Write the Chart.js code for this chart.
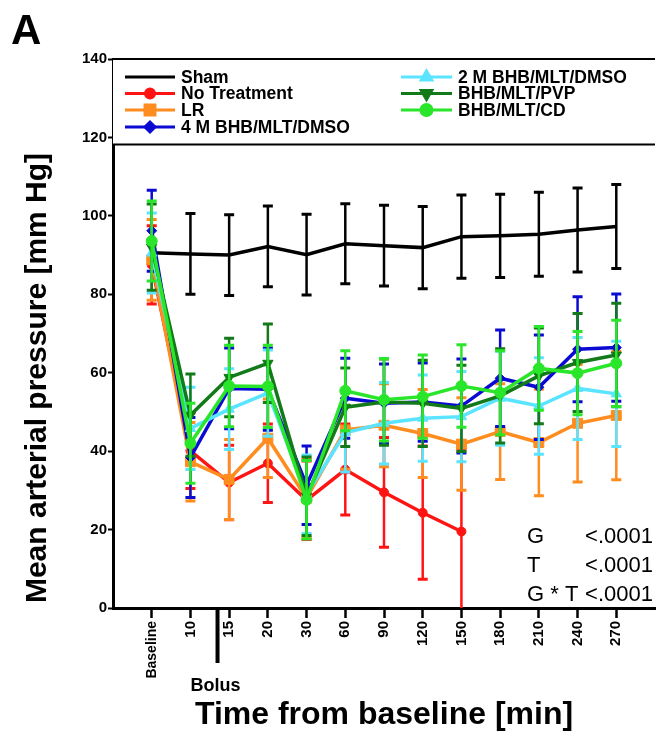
<!DOCTYPE html>
<html>
<head>
<meta charset="utf-8">
<title>Mean arterial pressure</title>
<script src="https://cdn.jsdelivr.net/npm/chart.js@4.4.1/dist/chart.umd.min.js"></script>
<style>
  html, body { margin: 0; padding: 0; background: #fff; }
  canvas { display: block; }
</style>
</head>
<body>
<canvas id="mapChart" width="663" height="736"></canvas>
<script>
// Time points (x categories)
const timeLabels = ['Baseline', '10', '15', '20', '30', '60', '90', '120', '150', '180', '210', '240', '270'];

// Series values (mm Hg) and their error bar half-heights
const shamValues = [90.6, 90.3, 90.0, 92.2, 90.1, 92.9, 92.4, 91.9, 94.7, 94.9, 95.3, 96.4, 97.3];
const shamErrors = [0, 10.3, 10.3, 10.3, 10.3, 10.2, 10.3, 10.5, 10.6, 10.6, 10.7, 10.7, 10.7];

const noTreatmentValues = [87.5, 40.1, 32.0, 36.9, 27.5, 35.3, 29.5, 24.3, 19.5];
const noTreatmentErrors = [10.0, 9.6, 9.5, 10.0, 10.0, 11.6, 14.0, 17.0, 21.0];

const lrValues = [88.8, 37.3, 32.8, 43.3, 28.0, 45.4, 46.6, 44.5, 41.8, 45.0, 42.2, 47.1, 49.1];
const lrErrors = [10.3, 10.0, 10.2, 10.0, 10.0, 10.0, 10.6, 11.2, 11.8, 12.2, 13.6, 15.0, 16.4];

const dmso4Values = [96.2, 38.4, 56.0, 55.8, 31.3, 53.5, 52.2, 52.5, 51.5, 58.6, 56.3, 66.0, 66.4];
const dmso4Errors = [10.3, 10.2, 10.3, 10.5, 10.0, 10.2, 10.0, 10.0, 12.0, 12.3, 13.3, 13.4, 13.7];

const dmso2Values = [90.5, 45.8, 50.7, 54.8, 29.0, 44.7, 47.1, 48.4, 48.8, 53.5, 51.5, 56.0, 54.6];
const dmso2Errors = [10.2, 10.5, 10.3, 11.0, 10.0, 10.0, 10.4, 11.0, 11.5, 12.0, 12.3, 13.0, 13.4];

const pvpValues = [92.0, 49.2, 58.8, 62.4, 28.5, 51.2, 52.5, 52.2, 50.9, 54.1, 59.2, 62.6, 64.5];
const pvpErrors = [11.0, 10.5, 10.0, 10.0, 10.0, 10.0, 11.0, 11.0, 11.0, 12.0, 12.2, 12.5, 13.2];

const cdValues = [93.6, 42.0, 56.6, 56.5, 27.6, 55.4, 53.1, 53.9, 56.6, 54.9, 61.1, 59.9, 62.4];
const cdErrors = [10.2, 10.2, 10.4, 10.5, 10.0, 10.2, 10.5, 10.6, 10.5, 10.7, 10.7, 10.6, 11.0];

// Y axis ticks
const yTicks = [0, 20, 40, 60, 80, 100, 120, 140];

// Statistics box
const statLabels = ['G', 'T', 'G * T'];
const statValues = ['<.0001', '<.0001', '<.0001'];

const FONT = "'Liberation Sans', Arial, Helvetica, sans-serif";

function makeSeries(label, values, errors, color, pointStyle, radius, rotation, order) {
  return {
    label: label,
    data: values.map((v, i) => ({ x: i, y: v })),
    errors: errors,
    borderColor: color,
    backgroundColor: color,
    borderWidth: 3.5,
    pointStyle: pointStyle,
    pointRadius: pointStyle ? radius : 0,
    pointRotation: rotation,
    pointBorderWidth: 1,
    pointBackgroundColor: color,
    pointBorderColor: color,
    tension: 0,
    order: order
  };
}

const datasets = [
  makeSeries('Sham', shamValues, shamErrors, '#000000', false, 0, 0, 7),
  makeSeries('No Treatment', noTreatmentValues, noTreatmentErrors, '#ff1414', 'circle', 4.5, 0, 6),
  makeSeries('LR', lrValues, lrErrors, '#ff8c1e', 'rect', 7, 0, 5),
  makeSeries('4 M BHB/MLT/DMSO', dmso4Values, dmso4Errors, '#0a0ad2', 'rectRot', 5, 0, 4),
  makeSeries('2 M BHB/MLT/DMSO', dmso2Values, dmso2Errors, '#5ae4ff', 'triangle', 6, 0, 3),
  makeSeries('BHB/MLT/PVP', pvpValues, pvpErrors, '#127a18', 'triangle', 6, 180, 2),
  makeSeries('BHB/MLT/CD', cdValues, cdErrors, '#2ae62a', 'circle', 5.5, 0, 1)
];

// Error bars, drawn just beneath each dataset's line
const errorBarPlugin = {
  id: 'errorBars',
  beforeDatasetDraw(chart, args) {
    const ds = chart.data.datasets[args.index];
    if (!ds.errors) return;
    const { ctx, chartArea } = chart;
    const xs = chart.scales.x, ys = chart.scales.y;
    ctx.save();
    ctx.beginPath();
    ctx.rect(chartArea.left, chartArea.top, chartArea.right - chartArea.left, chartArea.bottom - chartArea.top);
    ctx.clip();
    ctx.strokeStyle = ds.borderColor;
    ds.data.forEach((pt, i) => {
      const e = ds.errors[i];
      if (!e) return;
      const x = xs.getPixelForValue(pt.x);
      const yTop = ys.getPixelForValue(pt.y + e);
      const yBot = ys.getPixelForValue(pt.y - e);
      ctx.lineWidth = 2.5;
      ctx.beginPath();
      ctx.moveTo(x, yTop);
      ctx.lineTo(x, yBot);
      ctx.stroke();
      ctx.lineWidth = 3;
      ctx.beginPath();
      ctx.moveTo(x - 5, yTop);
      ctx.lineTo(x + 5, yTop);
      ctx.moveTo(x - 5, yBot);
      ctx.lineTo(x + 5, yBot);
      ctx.stroke();
    });
    ctx.restore();
  }
};

// Legend box, bolus marker, panel letter, axis title and stats text
const annotationPlugin = {
  id: 'annotations',
  afterDraw(chart) {
    const { ctx, chartArea } = chart;
    ctx.save();

    // legend box across the top of the plot
    const boxTop = chartArea.top, boxBottom = chart.scales.y.getPixelForValue(118.2);
    ctx.fillStyle = '#fff';
    ctx.fillRect(chartArea.left, boxTop, chartArea.right - chartArea.left, boxBottom - boxTop);
    ctx.strokeStyle = '#000';
    ctx.lineWidth = 2;
    ctx.beginPath();
    ctx.moveTo(chartArea.left, boxTop);
    ctx.lineTo(chartArea.right, boxTop);
    ctx.moveTo(chartArea.left, boxBottom);
    ctx.lineTo(chartArea.right, boxBottom);
    ctx.stroke();

    const cols = [{ x0: 125, x1: 175, tx: 181 }, { x0: 401, x1: 452, tx: 458 }];
    const rowY = [77, 93.5, 110, 127];
    const slots = [[0, 0], [0, 1], [0, 2], [0, 3], [1, 0], [1, 1], [1, 2]];
    ctx.font = 'bold 17.5px ' + FONT;
    ctx.textBaseline = 'middle';
    ctx.textAlign = 'left';
    chart.data.datasets.forEach((ds, i) => {
      const c = cols[slots[i][0]];
      const y = rowY[slots[i][1]];
      ctx.strokeStyle = ds.borderColor;
      ctx.lineWidth = 3;
      ctx.beginPath();
      ctx.moveTo(c.x0, y);
      ctx.lineTo(c.x1, y);
      ctx.stroke();
      if (ds.pointStyle) {
        ctx.fillStyle = ds.borderColor;
        Chart.helpers.drawPoint(ctx, {
          pointStyle: ds.pointStyle,
          radius: ds.pointRadius,
          rotation: ds.pointRotation,
          borderWidth: 1
        }, (c.x0 + c.x1) / 2, y);
      }
      ctx.fillStyle = '#000';
      ctx.fillText(ds.label, c.tx, y + 1);
    });

    // bolus marker below the x axis
    const bx = chart.scales.x.getPixelForValue(1.7);
    ctx.strokeStyle = '#000';
    ctx.lineWidth = 4;
    ctx.beginPath();
    ctx.moveTo(bx, chartArea.bottom);
    ctx.lineTo(bx, chartArea.bottom + 55);
    ctx.stroke();
    ctx.fillStyle = '#000';
    ctx.font = 'bold 18px ' + FONT;
    ctx.textAlign = 'center';
    ctx.fillText('Bolus', bx - 2, 686);

    // panel letter
    ctx.font = 'bold 42px ' + FONT;
    ctx.textAlign = 'left';
    ctx.textBaseline = 'alphabetic';
    ctx.fillText('A', 11, 44);

    // y axis title
    ctx.save();
    ctx.translate(38, 378);
    ctx.rotate(-Math.PI / 2);
    ctx.font = 'bold 30px ' + FONT;
    ctx.textAlign = 'center';
    ctx.textBaseline = 'middle';
    ctx.fillText('Mean arterial pressure [mm Hg]', 0, 0);
    ctx.restore();

    // statistics
    ctx.font = '22px ' + FONT;
    ctx.textBaseline = 'alphabetic';
    const statBase = [543, 572, 601];
    statLabels.forEach((lab, i) => {
      ctx.textAlign = 'left';
      ctx.fillText(lab, 527, statBase[i]);
      ctx.textAlign = 'right';
      ctx.fillText(statValues[i], 653, statBase[i]);
    });

    ctx.restore();
  }
};

Chart.defaults.color = '#000';
Chart.defaults.font.family = FONT;

new Chart(document.getElementById('mapChart'), {
  type: 'line',
  data: { datasets: datasets },
  plugins: [errorBarPlugin, annotationPlugin],
  options: {
    responsive: false,
    animation: false,
    layout: { padding: { top: 59, right: 1, left: 0, bottom: 0 } },
    plugins: {
      legend: { display: false },
      tooltip: { enabled: false }
    },
    scales: {
      x: {
        type: 'linear',
        min: -1,
        max: timeLabels.length,
        afterBuildTicks: scale => {
          scale.ticks = timeLabels.map((_, i) => ({ value: i }));
        },
        afterFit: scale => { scale.height = 128; },
        grid: { drawOnChartArea: false, drawTicks: true, tickLength: 10, tickWidth: 2.5, tickColor: '#000' },
        border: { display: true, color: '#000', width: 3 },
        ticks: {
          autoSkip: false,
          minRotation: 90,
          maxRotation: 90,
          padding: 3,
          color: '#000',
          font: ctx => ({ size: ctx.tick && ctx.tick.value === 0 ? 14 : 15, weight: 'bold', family: FONT }),
          callback: v => timeLabels[v]
        },
        title: {
          display: true,
          text: 'Time from baseline [min]',
          color: '#000',
          font: { size: 32, weight: 'bold', family: FONT },
          padding: { top: 0, bottom: 2 }
        }
      },
      y: {
        min: 0,
        max: 140,
        afterBuildTicks: scale => {
          scale.ticks = yTicks.map(v => ({ value: v }));
        },
        afterFit: scale => { scale.width = 113; },
        grid: { drawOnChartArea: false, drawTicks: true, tickLength: 5, tickWidth: 2, tickColor: '#000' },
        border: { display: true, color: '#000', width: 3 },
        ticks: {
          padding: 1,
          color: '#000',
          font: { size: 15, weight: 'bold', family: FONT }
        },
        title: { display: false }
      }
    }
  }
});
</script>
</body>
</html>
